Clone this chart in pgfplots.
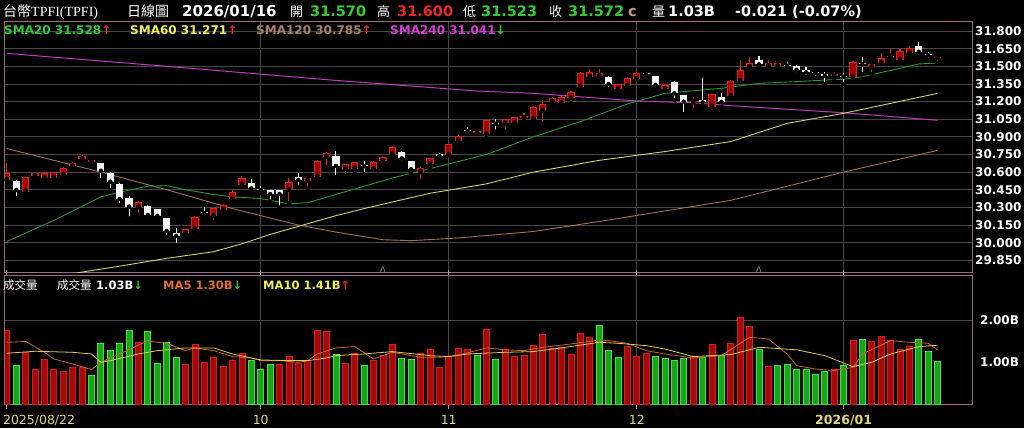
\documentclass[border=0pt]{standalone}
\usepackage{pgfplots}
\pgfplotsset{compat=1.18}
\usepackage{pgfplotstable}
\usepackage{fontspec}
\setmainfont{DejaVu Sans}
\newfontfamily\cjk{Noto Sans CJK TC}
\newfontfamily\serif{Liberation Serif}
\definecolor{framecol}{RGB}{150,110,130}
\definecolor{gridcol}{RGB}{72,72,72}
\definecolor{upred}{RGB}{160,8,8}
\definecolor{upredline}{RGB}{220,35,35}
\definecolor{dnwhite}{RGB}{245,245,245}
\definecolor{vgreen}{RGB}{25,165,25}
\definecolor{vgreenline}{RGB}{70,225,70}
\definecolor{vred}{RGB}{165,10,10}
\definecolor{vredline}{RGB}{210,30,30}
\definecolor{ma20}{RGB}{40,150,50}
\definecolor{ma60}{RGB}{210,210,110}
\definecolor{ma120}{RGB}{160,115,85}
\definecolor{ma240}{RGB}{190,60,190}
\definecolor{hgreen}{RGB}{50,205,50}
\definecolor{hred}{RGB}{235,40,40}
\definecolor{lblgreen}{RGB}{50,200,60}
\definecolor{lblyellow}{RGB}{240,240,90}
\definecolor{lbltan}{RGB}{165,130,105}
\definecolor{lblmag}{RGB}{215,60,215}
\definecolor{orangema}{RGB}{225,110,50}
\definecolor{vma5}{RGB}{200,100,50}
\definecolor{vma10}{RGB}{225,205,90}
\definecolor{datecol}{RGB}{225,215,120}
\definecolor{ctan}{RGB}{190,160,120}

\pgfplotstableread{
i o h l c k vc v
0 30.533 30.675 30.530 30.590 1 1 1.776
1 30.527 30.530 30.377 30.448 0 0 0.937
2 30.434 30.560 30.430 30.555 1 1 1.241
3 30.567 30.592 30.540 30.590 1 1 0.841
4 30.547 30.600 30.520 30.595 1 1 1.065
5 30.553 30.605 30.520 30.601 1 1 0.841
6 30.575 30.640 30.572 30.632 1 1 0.785
7 30.652 30.683 30.624 30.675 1 1 0.881
8 30.709 30.754 30.680 30.737 1 1 0.881
9 30.689 30.710 30.660 30.703 1 0 0.681
10 30.675 30.678 30.533 30.612 0 0 1.464
11 30.595 30.597 30.448 30.519 0 0 1.281
12 30.496 30.505 30.320 30.371 0 0 1.464
13 30.377 30.397 30.207 30.306 0 0 1.760
14 30.300 30.355 30.235 30.349 1 1 1.480
15 30.315 30.318 30.198 30.235 0 0 1.744
16 30.286 30.290 30.198 30.227 0 0 0.977
17 30.207 30.210 30.051 30.099 0 0 1.472
18 30.079 30.122 29.980 30.057 0 0 1.121
19 30.079 30.120 30.045 30.113 1 1 0.945
20 30.113 30.225 30.079 30.221 1 1 1.424
21 30.264 30.306 30.227 30.249 0 1 1.000
22 30.227 30.295 30.178 30.292 1 1 1.121
23 30.278 30.330 30.270 30.320 1 1 0.897
24 30.368 30.448 30.354 30.434 1 1 1.057
25 30.491 30.565 30.488 30.550 1 1 1.217
26 30.510 30.539 30.434 30.462 0 0 1.057
27 30.455 30.482 30.425 30.448 0 0 0.825
28 30.448 30.450 30.349 30.414 0 0 0.945
29 30.448 30.450 30.298 30.414 0 1 0.945
30 30.448 30.547 30.335 30.513 1 1 1.137
31 30.561 30.590 30.476 30.533 0 1 0.977
32 30.527 30.550 30.454 30.547 1 1 1.057
33 30.561 30.700 30.558 30.697 1 1 1.760
34 30.731 30.770 30.641 30.765 1 1 1.744
35 30.737 30.782 30.556 30.652 0 0 1.190
36 30.629 30.670 30.567 30.666 1 1 0.977
37 30.627 30.686 30.604 30.683 1 1 1.225
38 30.655 30.697 30.581 30.650 0 0 0.937
39 30.624 30.692 30.576 30.689 1 1 1.041
40 30.694 30.740 30.690 30.731 1 1 1.161
41 30.751 30.822 30.748 30.816 1 1 1.440
42 30.774 30.777 30.680 30.717 0 0 1.097
43 30.694 30.697 30.590 30.624 0 0 1.065
44 30.604 30.640 30.519 30.632 1 1 1.225
45 30.669 30.720 30.624 30.717 1 1 1.321
46 30.751 30.765 30.711 30.738 0 1 0.881
47 30.746 30.840 30.744 30.836 1 1 1.137
48 30.867 30.915 30.860 30.907 1 1 1.345
49 30.958 30.987 30.924 30.948 0 1 1.305
50 30.930 30.956 30.928 30.953 1 0 1.177
51 30.921 31.046 30.918 31.043 1 1 1.800
52 31.020 31.049 30.944 31.012 0 0 1.081
53 31.015 31.052 30.944 31.049 1 1 1.321
54 31.015 31.068 31.012 31.066 1 1 1.145
55 31.057 31.105 31.055 31.077 1 1 1.161
56 31.049 31.160 31.046 31.157 1 1 1.400
57 31.123 31.213 31.015 31.179 1 1 1.664
58 31.199 31.242 31.185 31.228 1 1 1.345
59 31.185 31.245 31.182 31.242 1 1 1.360
60 31.228 31.287 31.185 31.284 1 1 1.201
61 31.327 31.454 31.298 31.440 1 1 1.696
62 31.406 31.474 31.403 31.449 1 1 1.600
63 31.417 31.474 31.410 31.440 1 0 1.896
64 31.412 31.415 31.304 31.349 0 0 1.281
65 31.304 31.350 31.290 31.347 1 0 1.121
66 31.332 31.406 31.330 31.403 1 1 1.376
67 31.392 31.443 31.390 31.440 1 1 1.137
68 31.437 31.454 31.412 31.432 0 1 1.225
69 31.417 31.420 31.304 31.341 0 0 1.137
70 31.304 31.347 31.295 31.341 1 0 1.090
71 31.369 31.372 31.213 31.270 0 0 1.041
72 31.256 31.259 31.094 31.199 0 0 1.097
73 31.195 31.242 31.128 31.208 1 1 1.137
74 31.213 31.397 31.157 31.194 0 0 1.121
75 31.157 31.267 31.114 31.264 1 1 1.424
76 31.240 31.270 31.157 31.197 0 0 1.161
77 31.247 31.381 31.244 31.378 1 1 1.456
78 31.375 31.553 31.372 31.468 1 1 2.080
79 31.491 31.582 31.488 31.528 1 1 1.856
80 31.553 31.590 31.497 31.517 0 0 1.321
81 31.502 31.550 31.500 31.525 1 1 0.905
82 31.500 31.530 31.483 31.525 1 0 0.921
83 31.510 31.539 31.477 31.505 0 0 0.945
84 31.505 31.508 31.431 31.471 0 0 0.841
85 31.471 31.497 31.412 31.449 0 0 0.825
86 31.447 31.448 31.403 31.445 0 0 0.705
87 31.434 31.449 31.346 31.420 0 0 0.777
88 31.420 31.449 31.383 31.437 1 1 0.841
89 31.415 31.446 31.349 31.411 0 0 0.921
90 31.406 31.542 31.369 31.539 1 1 1.520
91 31.525 31.576 31.432 31.517 0 0 1.544
92 31.491 31.520 31.432 31.517 1 1 1.496
93 31.525 31.610 31.522 31.573 1 1 1.616
94 31.582 31.658 31.580 31.590 1 1 1.536
95 31.553 31.650 31.550 31.633 1 1 1.321
96 31.610 31.675 31.607 31.653 1 1 1.376
97 31.672 31.704 31.582 31.624 0 0 1.544
98 31.600 31.624 31.553 31.593 0 0 1.257
99 31.570 31.600 31.523 31.572 1 0 1.030
}\data

\begin{document}
\begin{tikzpicture}
\fill[black] (0pt,0pt) rectangle (1024pt,428pt);
\useasboundingbox (0pt,0pt) rectangle (1024pt,428pt);

% ---------------- price panel
\begin{axis}[at={(5pt,155pt)}, anchor=south west, scale only axis,
  width=967pt, height=251pt,
  xmin=-0.2, xmax=102.66, ymin=29.742, ymax=31.877,
  axis line style={framecol, line width=1pt},
  major tick length=0pt,
  xtick={27,47,67,89}, xticklabels={},
  ytick={29.85,30.00,30.15,30.30,30.45,30.60,30.75,30.90,31.05,31.20,31.35,31.50,31.65,31.80},
  yticklabels={29.850,30.000,30.150,30.300,30.450,30.600,30.750,30.900,31.050,31.200,31.350,31.500,31.650,31.800},
  yticklabel pos=right,
  yticklabel style={text=white, font=\fontsize{12}{12}\selectfont\bfseries, anchor=west, inner sep=0pt, xshift=3pt},
  xmajorgrids, ymajorgrids,
  major grid style={gridcol, line width=0.8pt},
]
% moving averages
\addplot[ma240, line width=1pt] coordinates {(0,31.61)(17,31.50)(35,31.38)(50,31.29)(56,31.27)(67,31.205)(73,31.19)(77,31.165)(89,31.105)(99,31.041)};
\addplot[ma120, line width=0.9pt] coordinates {(0,30.80)(10,30.60)(17,30.45)(24,30.29)(31,30.15)(35,30.09)(40,30.025)(43,30.017)(48,30.04)(56,30.095)(63,30.18)(70,30.27)(77,30.36)(82,30.46)(89,30.60)(99,30.785)};
\addplot[ma60, line width=0.9pt] coordinates {(6,29.72)(8,29.75)(12,29.80)(17,29.867)(22,29.923)(25,29.99)(28,30.07)(35,30.23)(38,30.29)(45,30.42)(51,30.50)(56,30.60)(63,30.70)(70,30.775)(77,30.86)(83,31.015)(89,31.10)(99,31.27)};
\addplot[ma20, line width=0.9pt] coordinates {(0,30.01)(5,30.19)(8,30.31)(10,30.39)(12,30.43)(15,30.48)(17,30.485)(19,30.45)(22,30.41)(24,30.39)(27,30.375)(30,30.33)(32,30.34)(35,30.41)(38,30.48)(41,30.55)(44,30.61)(46,30.65)(51,30.75)(56,30.90)(61,31.03)(66,31.18)(70,31.27)(72,31.285)(76,31.313)(80,31.355)(84,31.37)(87,31.383)(89,31.39)(91,31.412)(95,31.483)(97,31.52)(99,31.528)};
% wicks
\addplot[only marks, mark=none, restrict expr to domain={\thisrow{k}}{0.5:1.5},
  error bars/.cd, y dir=plus, y explicit, error mark=none,
  error bar style={upredline, line width=1.1pt}]
  table[x=i, y=l, y error expr=\thisrow{h}-\thisrow{l}] {\data};
\addplot[only marks, mark=none, restrict expr to domain={\thisrow{k}}{-0.5:0.5},
  error bars/.cd, y dir=plus, y explicit, error mark=none,
  error bar style={dnwhite, line width=1.1pt}]
  table[x=i, y=l, y error expr=\thisrow{h}-\thisrow{l}] {\data};
% bodies
\addplot[only marks, mark=none, restrict expr to domain={\thisrow{k}}{0.5:1.5},
  error bars/.cd, y dir=plus, y explicit, error mark=none,
  error bar style={upredline, line width=7.2pt}]
  table[x=i, y expr={min(\thisrow{o},\thisrow{c})}, y error expr={max(abs(\thisrow{c}-\thisrow{o}),0.009)}] {\data};
\addplot[only marks, mark=none, restrict expr to domain={\thisrow{k}}{0.5:1.5},
  error bars/.cd, y dir=plus, y explicit, error mark=none,
  error bar style={upred, line width=5.2pt}]
  table[x=i, y expr={min(\thisrow{o},\thisrow{c})+0.0085}, y error expr={max(abs(\thisrow{c}-\thisrow{o})-0.017,0)}] {\data};
\addplot[only marks, mark=none, restrict expr to domain={\thisrow{k}}{-0.5:0.5},
  error bars/.cd, y dir=plus, y explicit, error mark=none,
  error bar style={dnwhite, line width=7.2pt}]
  table[x=i, y expr={min(\thisrow{o},\thisrow{c})}, y error expr={max(abs(\thisrow{c}-\thisrow{o}),0.009)}] {\data};
\node[text=gray!85, font=\fontsize{8}{8}\selectfont, inner sep=0pt] at (axis cs:40,29.775) {Λ};
\node[text=gray!85, font=\fontsize{8}{8}\selectfont, inner sep=0pt] at (axis cs:80,29.775) {Λ};
\end{axis}

% ---------------- volume panel
\begin{axis}[at={(5pt,24pt)}, anchor=south west, scale only axis,
  width=967pt, height=129pt,
  xmin=-0.2, xmax=102.66, ymin=0, ymax=3.094,
  axis line style={framecol, line width=1pt},
  tick align=outside, major tick length=5pt,
  xtick={27,47,67,89}, xticklabels={10,11,12,{\bfseries 2026/01}},
  extra x ticks={0}, extra x tick labels={2025/08/22},
  extra x tick style={grid=none, xticklabel style={anchor=north west, xshift=-4pt}},
  xtick style={draw=gray!75, line width=1pt},
  xticklabel style={text=datecol, font=\fontsize{12.5}{12.5}\selectfont, inner sep=0pt, yshift=-6pt},
  ytick={1}, yticklabels={1.00B},
  extra y ticks={2}, extra y tick labels={2.00B},
  extra y tick style={grid=major},
  ytick style={draw=none},
  yticklabel pos=right,
  yticklabel style={text=white, font=\fontsize{12}{12}\selectfont\bfseries, anchor=west, inner sep=0pt, xshift=3pt},
  xmajorgrids,
  major grid style={gridcol, line width=0.8pt},
]
\addplot[ybar, bar width=6pt, bar shift=0pt, fill=vred, draw=vredline, line width=0.8pt,
  restrict expr to domain={\thisrow{vc}}{0.5:1.5}] table[x=i, y=v] {\data};
\addplot[ybar, bar width=6pt, bar shift=0pt, fill=vgreen, draw=vgreenline, line width=0.8pt,
  restrict expr to domain={\thisrow{vc}}{-0.5:0.5}] table[x=i, y=v] {\data};
\addplot[vma5, line width=0.8pt] coordinates {(0,1.48)(2,1.50)(4,1.24)(5,1.08)(7,0.96)(9,0.825)(10,1.0)(12,1.2)(15,1.52)(16,1.48)(17,1.456)(19,1.28)(20,1.345)(22,1.28)(24,1.137)(26,1.105)(27,1.04)(29,1.04)(31,1.0)(32,1.04)(33,1.2)(35,1.345)(37,1.376)(39,1.08)(41,1.24)(44,1.12)(46,1.12)(48,1.17)(51,1.345)(53,1.30)(55,1.28)(57,1.36)(60,1.44)(63,1.536)(64,1.52)(66,1.456)(68,1.28)(70,1.2)(73,1.105)(76,1.16)(79,1.60)(81,1.56)(83,1.2)(84,0.92)(86,0.84)(88,0.80)(90,0.88)(91,1.2)(94,1.52)(96,1.48)(98,1.456)(99,1.30)};
\addplot[vma10, line width=0.8pt] coordinates {(0,1.217)(3,1.265)(7,1.24)(9,1.2)(10,1.0)(11,1.04)(14,1.2)(16,1.28)(19,1.345)(22,1.345)(24,1.2)(27,1.057)(30,1.04)(32,1.04)(34,1.105)(35,1.16)(38,1.2)(41,1.257)(45,1.16)(47,1.137)(49,1.2)(53,1.24)(56,1.257)(59,1.345)(63,1.48)(65,1.456)(68,1.40)(70,1.32)(73,1.137)(77,1.185)(80,1.36)(84,1.30)(87,1.16)(90,0.896)(92,1.0)(94,1.2)(97,1.376)(99,1.41)};
\end{axis}

% ---------------- header
\begin{scope}[every node/.style={anchor=base west, inner sep=0pt}]
\node[text=white, font=\fontsize{14}{14}\selectfont] at (3pt,411pt) {{\cjk 台幣}{\serif TPFI(TPFI)}};
\node[text=white, font=\fontsize{14}{14}\selectfont\cjk] at (127pt,411pt) {日線圖};
\node[text=white, font=\fontsize{15}{15}\selectfont\bfseries] at (182pt,411pt) {2026/01/16};
\node[text=white, font=\fontsize{13}{13}\selectfont\cjk] at (290pt,411pt) {開};
\node[text=hgreen, font=\fontsize{14.5}{14.5}\selectfont\bfseries] at (310pt,411pt) {31.570};
\node[text=white, font=\fontsize{13}{13}\selectfont\cjk] at (377pt,411pt) {高};
\node[text=hred, font=\fontsize{14.5}{14.5}\selectfont\bfseries] at (397pt,411pt) {31.600};
\node[text=white, font=\fontsize{13}{13}\selectfont\cjk] at (463pt,411pt) {低};
\node[text=hgreen, font=\fontsize{14.5}{14.5}\selectfont\bfseries] at (481pt,411pt) {31.523};
\node[text=white, font=\fontsize{13}{13}\selectfont\cjk] at (549pt,411pt) {收};
\node[text=hgreen, font=\fontsize{14.5}{14.5}\selectfont\bfseries] at (568pt,411pt) {31.572};
\node[text=ctan, font=\fontsize{14.5}{14.5}\selectfont\bfseries] at (628pt,411pt) {c};
\node[text=white, font=\fontsize{13}{13}\selectfont\cjk] at (652pt,411pt) {量};
\node[text=white, font=\fontsize{14.5}{14.5}\selectfont\bfseries] at (668pt,411pt) {1.03B};
\node[text=white, font=\fontsize{14.5}{14.5}\selectfont\bfseries] at (735pt,411pt) {-0.021 (-0.07\%)};
% MA labels
\node[text=lblgreen, font=\fontsize{12}{12}\selectfont\bfseries] at (4pt,393pt) {SMA20 31.528\textcolor{hred}{↑}};
\node[text=lblyellow, font=\fontsize{12}{12}\selectfont\bfseries] at (130pt,393pt) {SMA60 31.271\textcolor{hred}{↑}};
\node[text=lbltan, font=\fontsize{12}{12}\selectfont\bfseries] at (256pt,393pt) {SMA120 30.785\textcolor{hred}{↑}};
\node[text=lblmag, font=\fontsize{12}{12}\selectfont\bfseries] at (390pt,393pt) {SMA240 31.041\textcolor{hgreen}{↓}};
% volume labels
\node[text=white, font=\fontsize{11.5}{11.5}\selectfont\cjk] at (3pt,138pt) {成交量};
\node[text=white, font=\fontsize{11.5}{11.5}\selectfont\cjk] at (57pt,138pt) {成交量};
\node[text=white, font=\fontsize{11.5}{11.5}\selectfont\bfseries] at (96pt,138pt) {1.03B\textcolor{hgreen}{↓}};
\node[text=orangema, font=\fontsize{11.5}{11.5}\selectfont\bfseries] at (163pt,138pt) {MA5 1.30B\textcolor{hgreen}{↓}};
\node[text=lblyellow, font=\fontsize{11.5}{11.5}\selectfont\bfseries] at (263pt,138pt) {MA10 1.41B\textcolor{hred}{↑}};
\end{scope}
\end{tikzpicture}
\end{document}
